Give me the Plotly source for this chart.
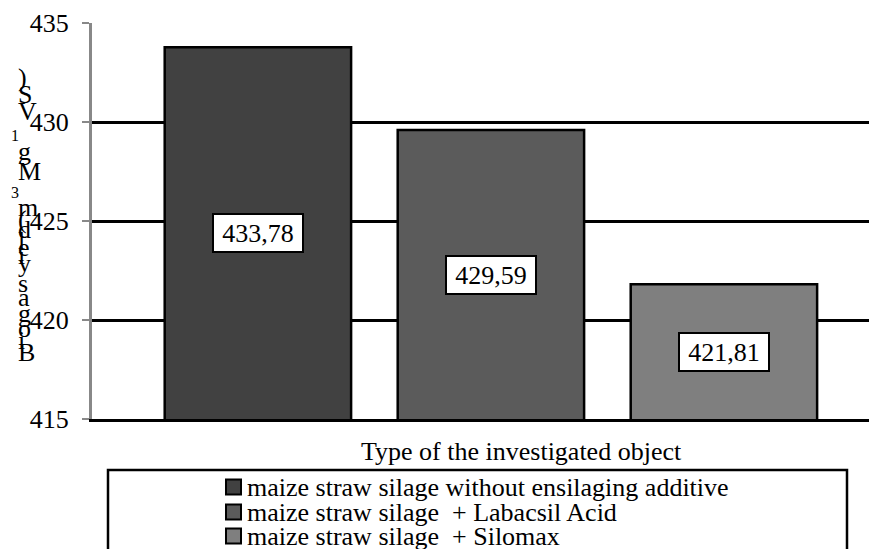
import plotly.graph_objects as go

# ---------------- data ----------------
series_names = [
    "maize straw silage without ensilaging additive",
    "maize straw silage \u00a0+ Labacsil Acid",
    "maize straw silage \u00a0+ Silomax",
]
values = [433.78, 429.59, 421.81]
value_labels = ["433,78", "429,59", "421,81"]
bar_colors = ["#414141", "#5b5b5b", "#7f7f7f"]
y_ticks = [415, 420, 425, 430, 435]
x_title = "Type of the investigated object"
# y-axis title, as it appears (characters stacked upright, bottom to top)
y_title_chars = ["B", "i", "o", "g", "a", "s", "y", "i", "e", "l", "d", "(",
                 "m", "3", "M", "g", "1", "V", "S", ")"]
y_title_sup = [False] * 13 + [True] + [False, False, True] + [False] * 3

# ---------------- layout constants (window pixels) ----------------
OFF = 8                      # page body margin
W, H = 877 - OFF, 549 - OFF  # figure size
PLOT_L, PLOT_T, PLOT_B = 92, 23, 419   # plot area in window pixels
L = PLOT_L - OFF
T = PLOT_T - OFF
B = H - (PLOT_B - OFF)
R = 0
PW, PH = W - L - R, H - T - B
FONT = "Liberation Serif, Times New Roman, serif"


def px(x):
    return (x - OFF - L) / PW


def py(y):
    return (H - B - (y - OFF)) / PH


fig = go.Figure()
for name, v, c in zip(series_names, values, bar_colors):
    fig.add_trace(go.Bar(
        x=[name], y=[v], name=name, width=0.8,
        marker=dict(color=c, line=dict(color="black", width=2.5)),
        showlegend=False,
    ))

annotations = []
# data labels centred in the visible part of each bar
for name, v, lab in zip(series_names, values, value_labels):
    annotations.append(dict(
        x=name, y=(y_ticks[0] + v) / 2, xref="x", yref="y", text=lab,
        showarrow=False, font=dict(family=FONT, size=26, color="black"),
        bgcolor="white", bordercolor="black", borderwidth=2, borderpad=0,
        width=88, height=36,
    ))

# x axis title
annotations.append(dict(
    x=px(521), y=py(451), xref="paper", yref="paper", text=x_title,
    showarrow=False, xanchor="center", yanchor="middle",
    font=dict(family=FONT, size=26, color="black"),
))

# y axis title (stacked characters)
ypos = [352, 340, 328, 313, 297, 283, 263, 255, 248, 240, 229, 219,
        207, 192, 171, 151, 135, 112, 95, 77]
for ch, sup, yy in zip(y_title_chars, y_title_sup, ypos):
    annotations.append(dict(
        x=px(9 if sup else 16), y=py(yy), xref="paper", yref="paper",
        text=ch, showarrow=False, xanchor="left", yanchor="middle",
        font=dict(family=FONT, size=16 if sup else 26, color="black"),
    ))

shapes = []
# manual legend
shapes.append(dict(type="rect", xref="paper", yref="paper",
                   x0=px(108), x1=px(847), y0=py(470), y1=py(575),
                   line=dict(color="black", width=2.5), fillcolor="white",
                   layer="below"))
row_y = [487, 512, 536]
for name, c, ry in zip(series_names, bar_colors, row_y):
    shapes.append(dict(type="rect", xref="paper", yref="paper",
                       x0=px(226), x1=px(241), y0=py(ry - 7.5), y1=py(ry + 7.5),
                       line=dict(color="black", width=2), fillcolor=c))
    annotations.append(dict(
        x=px(245), y=py(ry), xref="paper", yref="paper", text=name,
        showarrow=False, xanchor="left", yanchor="middle",
        font=dict(family=FONT, size=26, color="black"),
    ))

fig.update_layout(
    width=W, height=H,
    margin=dict(l=L, r=R, t=T, b=B, pad=0),
    paper_bgcolor="white", plot_bgcolor="white",
    barmode="overlay",
    xaxis=dict(range=[-0.712, 2.657], showticklabels=False, ticks="",
               showgrid=False, showline=True, linecolor="black", linewidth=2.5,
               zeroline=False, fixedrange=True),
    yaxis=dict(range=[415, 435], tickvals=y_ticks, ticks="outside", ticklen=7,
               tickwidth=2, tickcolor="#888888", showline=True,
               linecolor="#888888", linewidth=3, showgrid=True,
               gridcolor="black", gridwidth=2.5, zeroline=False,
               tickfont=dict(family=FONT, size=26, color="black"),
               ticklabelstandoff=8, fixedrange=True),
    annotations=annotations,
    shapes=shapes,
    showlegend=False,
)

fig.write_html("out.html")
